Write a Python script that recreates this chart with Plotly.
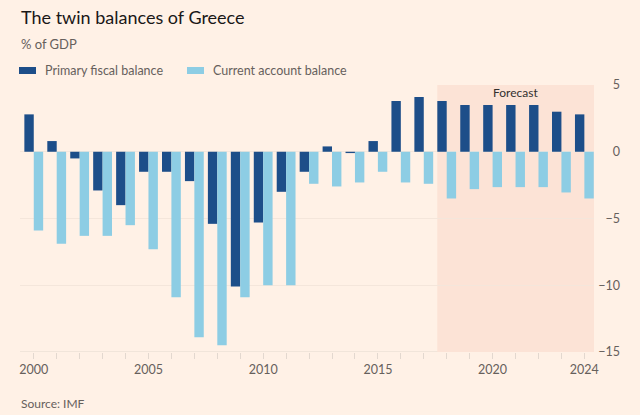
import plotly.graph_objects as go

years = list(range(2000, 2025))
primary_fiscal = [2.8, 0.8, -0.5, -2.9, -4.0, -1.5, -1.5, -2.2, -5.4, -10.1,
                  -5.3, -3.0, -1.5, 0.4, -0.1, 0.8, 3.8, 4.1, 3.8, 3.5,
                  3.5, 3.5, 3.5, 3.0, 2.8]
current_account = [-5.9, -6.9, -6.3, -6.3, -5.5, -7.3, -10.9, -13.9, -14.5, -10.9,
                   -10.0, -10.0, -2.4, -2.6, -2.3, -1.5, -2.3, -2.4, -3.5, -2.8,
                   -2.65, -2.65, -2.65, -3.05, -3.5]
xtick_labels = {2000: "2000", 2005: "2005", 2010: "2010", 2015: "2015", 2020: "2020", 2024: "2024"}
ytick_vals = [5, 0, -5, -10, -15]
forecast_start = 2017.59

BG = "#FFF1E6"
DARK = "#1D4E89"
LIGHT = "#8DCDE4"
GREY = "#66605C"
FONT = "Lato"

W, H = 640, 415
ml = 20
mt = 85
plot_right = 594
plot_bottom = 352
mr = W - 620
mb = H - plot_bottom
dom_r = (plot_right - ml) / (W - ml - mr)

fig = go.Figure()
fig.add_trace(go.Bar(x=years, y=primary_fiscal, name="Primary fiscal balance",
                     marker=dict(color=DARK, line=dict(width=0))))
fig.add_trace(go.Bar(x=years, y=current_account, name="Current account balance",
                     marker=dict(color=LIGHT, line=dict(width=0))))

fig.add_shape(type="rect", xref="x", yref="y", x0=forecast_start, x1=2024.42,
              y0=-15, y1=5, fillcolor="#FCE3D6", line=dict(width=0), layer="below")
fig.add_annotation(x=(forecast_start + 2024.42) / 2, y=5, xref="x", yref="y",
                   text="Forecast", showarrow=False, yanchor="top", yshift=2,
                   font=dict(family=FONT, size=12, color="#33302E"))

fig.update_layout(
    width=W, height=H,
    margin=dict(l=ml, r=mr, t=mt, b=mb),
    paper_bgcolor=BG, plot_bgcolor=BG,
    barmode="group", bargap=0.18, bargroupgap=0,
    showlegend=False,
    font=dict(family=FONT, color=GREY, size=12),
    xaxis=dict(domain=[0, dom_r], range=[1999.4, 2024.42],
               tickvals=years, ticktext=[xtick_labels.get(y, "") for y in years],
               ticks="outside", ticklen=6, tickcolor="#E3D8CF", tickwidth=1,
               showgrid=False, zeroline=False, showline=False,
               tickfont=dict(family=FONT, size=12.5, color=GREY)),
    yaxis=dict(range=[-15, 5], tickvals=ytick_vals,
               side="left", anchor="free", position=1.0,
               showgrid=True, gridcolor="#F4E6DB", gridwidth=1,
               zeroline=False, showline=False, ticks="",
               tickfont=dict(family=FONT, size=12.5, color=GREY)),
)

# bottom axis line at -15
fig.add_shape(type="line", xref="paper", yref="y", x0=0, x1=dom_r, y0=-15, y1=-15,
              line=dict(color="#E3D8CF", width=1), layer="below")

def pxp(px):
    return (px - ml) / (W - ml - mr)

def pyp(py):
    return (H - mb - py) / (H - mt - mb)

fig.add_annotation(text="The twin balances of Greece", xref="paper", yref="paper",
                   x=pxp(19), y=pyp(17.5), xanchor="left", yanchor="middle",
                   showarrow=False, font=dict(family=FONT, size=18, color="#1A1817"))
fig.add_annotation(text="% of GDP", xref="paper", yref="paper",
                   x=pxp(19), y=pyp(44), xanchor="left", yanchor="middle",
                   showarrow=False, font=dict(family=FONT, size=13, color=GREY))
# legend
fig.add_shape(type="rect", xref="paper", yref="paper",
              x0=pxp(19), x1=pxp(36), y0=pyp(67), y1=pyp(74),
              fillcolor=DARK, line=dict(width=0))
fig.add_annotation(text="Primary fiscal balance", xref="paper", yref="paper",
                   x=pxp(43), y=pyp(70.5), xanchor="left", yanchor="middle",
                   showarrow=False, font=dict(family=FONT, size=12.5, color=GREY))
fig.add_shape(type="rect", xref="paper", yref="paper",
              x0=pxp(187), x1=pxp(204), y0=pyp(67), y1=pyp(74),
              fillcolor=LIGHT, line=dict(width=0))
fig.add_annotation(text="Current account balance", xref="paper", yref="paper",
                   x=pxp(211), y=pyp(70.5), xanchor="left", yanchor="middle",
                   showarrow=False, font=dict(family=FONT, size=12.5, color=GREY))
fig.add_annotation(text="Source: IMF", xref="paper", yref="paper",
                   x=pxp(19), y=pyp(403), xanchor="left", yanchor="middle",
                   showarrow=False, font=dict(family=FONT, size=12, color=GREY))

# remove the browser's default 8px body margin so the figure fills the window
fig.write_html("out.html",
               config={"displayModeBar": False, "staticPlot": True},
               post_script="document.body.style.margin='0';document.body.style.background='" + BG + "';")
